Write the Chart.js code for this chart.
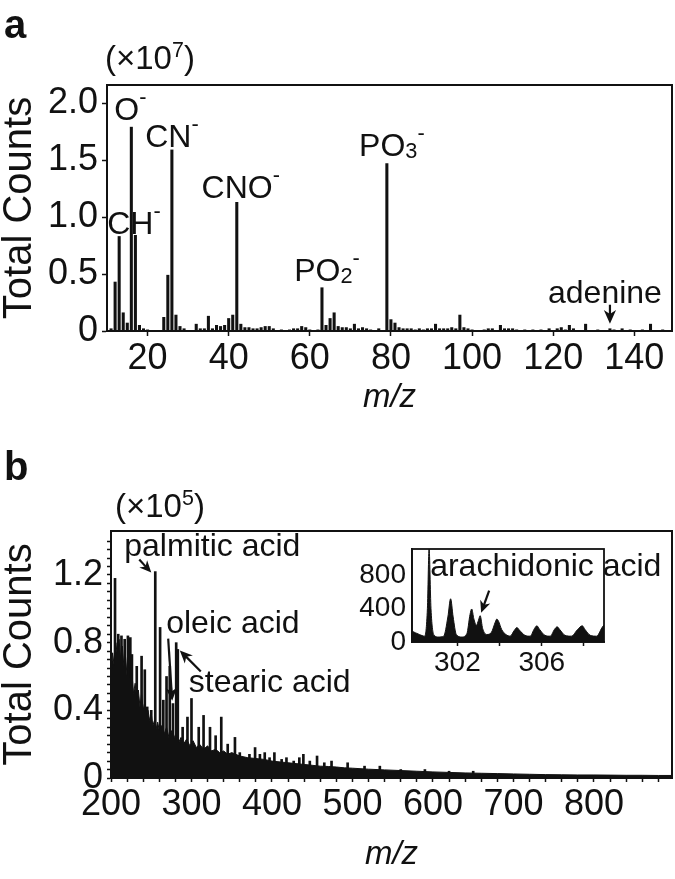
<!DOCTYPE html>
<html><head><meta charset="utf-8">
<script src="https://cdn.jsdelivr.net/npm/chart.js@4.4.0/dist/chart.umd.min.js"></script>
<style>
html,body{margin:0;padding:0;background:#fff;}
#wrap{position:relative;width:675px;height:879px;overflow:hidden;font-family:"Liberation Sans",Arial,sans-serif;color:#111;}
canvas{position:absolute;}
.lbl{position:absolute;white-space:nowrap;line-height:1;color:#111;}
sup{font-size:65%;}
</style></head><body>
<div id="wrap">
<canvas id="ca" width="675" height="440" style="left:0;top:0"></canvas>
<canvas id="cb" width="675" height="439" style="left:0;top:440px"></canvas>
<canvas id="ci" width="340" height="170" style="left:335px;top:520px"></canvas>
<div class="lbl" style="left:4px;top:4px;font-size:40px;font-weight:bold;">a</div>
<div class="lbl" style="left:105px;top:40px;font-size:33px;">(×10<sup>7</sup>)</div>
<div class="lbl" style="left:4px;top:446px;font-size:40px;font-weight:bold;">b</div>
<div class="lbl" style="left:115px;top:488px;font-size:33px;">(×10<sup>5</sup>)</div>
</div>
<script>
// ---------- Panel a : low-mass negative-ion spectrum (counts ×10^7) ----------
const aMz = [11,12,13,14,15,16,17,18,19,20,24,25,26,27,28,29,32,33,34,35,36,37,38,39,40,41,42,43,44,45,46,47,48,49,50,51,53,55,56,57,58,59,60,62,63,64,65,66,67,68,69,70,71,72,73,74,75,77,79,80,81,82,83,84,85,86,87,88,89,90,91,92,93,94,95,96,97,98,99,100,103,104,105,107,108,109,110,111,113,115,117,119,121,122,123,124,125,128,131,134,135,137,139,142,144,147];
const aCounts = [0.02,0.43,0.83,0.16,0.07,1.79,0.84,0.05,0.02,0.01,0.12,0.49,1.59,0.14,0.04,0.02,0.06,0.02,0.02,0.13,0.02,0.05,0.04,0.05,0.11,0.14,1.13,0.06,0.03,0.03,0.02,0.02,0.03,0.04,0.04,0.02,0.01,0.01,0.02,0.02,0.04,0.03,0.01,0.01,0.38,0.05,0.11,0.16,0.04,0.03,0.03,0.02,0.06,0.02,0.03,0.02,0.01,0.02,1.47,0.10,0.07,0.03,0.02,0.02,0.02,0.01,0.02,0.01,0.02,0.02,0.06,0.02,0.02,0.02,0.03,0.02,0.14,0.03,0.02,0.01,0.01,0.02,0.02,0.05,0.02,0.02,0.02,0.01,0.01,0.01,0.01,0.02,0.02,0.03,0.01,0.05,0.02,0.06,0.01,0.02,0.01,0.02,0.01,0.01,0.06,0.01];
const aXTicks = [20,40,60,80,100,120,140];
const aYTicks = [0,0.5,1.0,1.5,2.0];
const aYLabels = ['0','0.5','1.0','1.5','2.0'];

// ---------- Panel b : high-mass spectrum (counts ×10^5) ----------
// dense background (filled envelope)
const bEnvMz = [200,202,204,206,208,210,212,214,216,218,220,222,224,226,228,230,232,234,236,238,240,242,244,246,248,250,252,254,256,258,260,263,266,269,272,275,278,281,284,287,290,294,298,302,306,310,315,320,325,330,335,340,345,350,360,370,380,390,400,410,420,430,440,450,460,470,480,490,500,520,540,560,580,600,620,640,660,680,700,720,740,760,780,800,820,840,860,880,897];
const bEnvCounts = [0.60,0.74,0.66,0.80,0.72,0.82,0.70,0.78,0.66,0.72,0.60,0.68,0.56,0.62,0.50,0.56,0.46,0.52,0.42,0.50,0.40,0.45,0.36,0.40,0.34,0.38,0.31,0.34,0.29,0.33,0.28,0.31,0.26,0.30,0.24,0.28,0.23,0.27,0.21,0.24,0.20,0.23,0.19,0.22,0.18,0.20,0.17,0.19,0.16,0.17,0.15,0.16,0.14,0.15,0.13,0.12,0.115,0.11,0.10,0.095,0.09,0.085,0.08,0.075,0.07,0.068,0.065,0.06,0.058,0.052,0.048,0.044,0.04,0.036,0.033,0.03,0.028,0.026,0.024,0.022,0.02,0.019,0.018,0.018,0.017,0.016,0.016,0.015,0.015];
// prominent peaks
const bPeakMz = [205,209,213,217,221,224,226,232,238,242,245,250,255,261,265,269,273,277,281,283,289,295,300,309,315,323,330,337,345,354,360,372,379,385,391,397,403,412,418,427,434,439,447,456,465,474,494,515,534,560,590,620,650];
const bPeakCounts = [1.18,0.85,0.84,0.82,0.84,0.83,0.73,0.66,0.72,0.64,0.42,0.40,1.22,0.89,0.46,0.60,0.66,0.44,0.80,0.76,0.30,0.36,0.47,0.30,0.37,0.30,0.25,0.36,0.20,0.24,0.15,0.14,0.18,0.14,0.15,0.12,0.15,0.11,0.12,0.10,0.12,0.14,0.10,0.13,0.09,0.10,0.09,0.07,0.07,0.05,0.05,0.04,0.04];
const bXTicks = [200,300,400,500,600,700,800];
const bYTicks = [0,0.4,0.8,1.2];
const bYLabels = ['0','0.4','0.8','1.2'];

// ---------- Inset : 300-309 m/z profile (counts) ----------
const insetMz = [299.85,300.2,300.45,300.58,300.66,300.75,300.9,301.1,301.35,301.55,301.68,301.8,301.95,302.2,302.45,302.6,302.68,302.78,302.9,303.0,303.08,303.2,303.4,303.6,303.8,303.87,303.95,304.1,304.3,304.5,304.7,304.82,304.95,305.2,305.45,305.65,305.77,305.9,306.15,306.4,306.6,306.73,306.85,307.1,307.4,307.7,307.92,308.05,308.3,308.6,308.85,308.95];
const insetCounts = [130,90,70,400,1115,400,80,60,70,300,518,300,90,60,100,330,396,280,200,260,315,160,90,110,240,275,250,150,90,70,140,173,140,80,70,160,194,150,80,70,150,182,150,80,70,150,194,150,80,70,170,206];
const insetXTicks = [302,304,306,308];
const insetXLabels = ['302','','306',''];
const insetYTicks = [0,400,800];

// ---------- helpers ----------
const INK = '#111';
const FONT = '"Liberation Sans", Arial, sans-serif';

function richText(ctx, x, y, parts, size, align) {
  const pieces = parts.map(([t, m]) => {
    const s = m ? size * 0.68 : size;
    ctx.font = s + 'px ' + FONT;
    return {t, m, s, w: ctx.measureText(t).width};
  });
  const total = pieces.reduce((a, p) => a + p.w, 0);
  let cx = align === 'center' ? x - total / 2 : (align === 'right' ? x - total : x);
  ctx.textAlign = 'left';
  ctx.textBaseline = 'alphabetic';
  for (const p of pieces) {
    ctx.font = p.s + 'px ' + FONT;
    let dy = 0;
    if (p.m === 'sup') dy = -size * 0.5;
    if (p.m === 'sub') dy = size * 0.06;
    ctx.fillText(p.t, cx, y + dy);
    cx += p.w;
  }
}
function arrow(ctx, x1, y1, x2, y2, head) {
  head = head || 12;
  const ang = Math.atan2(y2 - y1, x2 - x1);
  ctx.beginPath();
  ctx.moveTo(x1, y1);
  ctx.lineTo(x2 - Math.cos(ang) * head * 0.6, y2 - Math.sin(ang) * head * 0.6);
  ctx.lineWidth = 2.2; ctx.strokeStyle = INK; ctx.stroke();
  ctx.beginPath();
  ctx.moveTo(x2, y2);
  ctx.lineTo(x2 - Math.cos(ang - 0.42) * head, y2 - Math.sin(ang - 0.42) * head);
  ctx.lineTo(x2 - Math.cos(ang) * head * 0.65, y2 - Math.sin(ang) * head * 0.65);
  ctx.lineTo(x2 - Math.cos(ang + 0.42) * head, y2 - Math.sin(ang + 0.42) * head);
  ctx.closePath(); ctx.fillStyle = INK; ctx.fill();
}
const framePlugin = {
  id: 'frame',
  afterDatasetsDraw(chart, args, opts) {
    const {ctx, chartArea: a} = chart;
    ctx.save(); ctx.strokeStyle = INK; ctx.lineWidth = opts.lw || 2;
    ctx.strokeRect(a.left, a.top, a.right - a.left, a.bottom - a.top);
    ctx.restore();
  }
};
const annotPlugin = {
  id: 'annot',
  afterDraw(chart, args, opts) {
    if (opts.draw) { const ctx = chart.ctx; ctx.save(); ctx.fillStyle = INK; opts.draw(chart, ctx); ctx.restore(); }
  }
};
Chart.register(framePlugin, annotPlugin);
Chart.defaults.font.family = FONT;
Chart.defaults.color = INK;
Chart.defaults.animation = false;

function fixedTicks(values) {
  return function (scale) { scale.ticks = values.map(v => ({value: v})); };
}
function axisBase(extra) {
  return Object.assign({
    type: 'linear', offset: false,
    grid: {display: true, offset: false, drawOnChartArea: false, drawTicks: true, tickLength: 5, tickWidth: 1.5, tickColor: INK},
    border: {display: true, color: INK, width: 2},
  }, extra);
}
const tickGrid = (len) => ({display: true, offset: false, drawOnChartArea: false, drawTicks: true, tickLength: len, tickWidth: 1.5, tickColor: INK});
const TICK_FONT = 36;
const TITLE_Y = {size: 40, lineHeight: 1.0};

// ---------- Chart a ----------
const peakA = (mz) => ({x: mz, y: aCounts[aMz.indexOf(mz)]});
new Chart(document.getElementById('ca'), {
  type: 'bar',
  data: {datasets: [{
    data: aMz.map((m, i) => ({x: m, y: aCounts[i]})),
    backgroundColor: INK, barThickness: 2.4, borderWidth: 0
  }]},
  options: {
    responsive: false, maintainAspectRatio: false,
    layout: {padding: {top: 85, right: 3, left: 0, bottom: 0}},
    plugins: {legend: {display: false}, tooltip: {enabled: false},
      annot: {draw(chart, ctx) {
        const xs = chart.scales.x, ys = chart.scales.y;
        const px = m => xs.getPixelForValue(m), py = v => ys.getPixelForValue(v);
        const S = 32;
        let p;
        p = peakA(16); richText(ctx, px(p.x) - 1, py(p.y) - 7, [['O',''],['-','sup']], S, 'center');
        p = peakA(26); richText(ctx, px(p.x), py(p.y) - 3, [['CN',''],['-','sup']], S, 'center');
        p = peakA(13); richText(ctx, px(p.x) - 12, py(p.y) - 2, [['CH',''],['-','sup']], S, 'left');
        p = peakA(42); richText(ctx, px(p.x) + 4, py(p.y) - 4, [['CNO',''],['-','sup']], S, 'center');
        p = peakA(63); richText(ctx, px(p.x) + 5, py(p.y) - 7, [['PO',''],['2','sub'],['-','sup']], S, 'center');
        p = peakA(79); richText(ctx, px(p.x) + 5, py(p.y) - 8, [['PO',''],['3','sub'],['-','sup']], S, 'center');
        p = peakA(134); richText(ctx, px(p.x) - 5, py(p.y) - 26, [['adenine','']], S, 'center');
        arrow(ctx, px(p.x), py(p.y) - 24, px(p.x), py(p.y) - 5, 15);
      }}},
    scales: {
      x: axisBase({min: 10, max: 149.3, afterBuildTicks: fixedTicks(aXTicks), afterFit(s) { s.height = 440 - 331; },
        ticks: {font: {size: TICK_FONT}, padding: 1, autoSkip: false, maxRotation: 0},
        title: {display: true, text: 'm/z', font: {size: 33, style: 'italic'}, padding: {top: 0, bottom: 22}}}),
      y: axisBase({min: 0, max: 2.16, afterBuildTicks: fixedTicks(aYTicks), afterFit(s) { s.width = 107; },
        ticks: {font: {size: TICK_FONT}, padding: 4, autoSkip: false, callback: (v) => aYLabels[aYTicks.indexOf(v)] ?? ''},
        title: {display: true, text: 'Total Counts', font: TITLE_Y, padding: {top: 0, bottom: 0}}})
    }
  }
});

// ---------- Chart b ----------
const peakB = (mz) => ({x: mz, y: bPeakCounts[bPeakMz.indexOf(mz)]});
const bMinorX = []; for (let v = 200; v <= 890; v += 20) bMinorX.push(v);
const bMinorY = []; for (let v = 0; v <= 1.45; v += 0.05) bMinorY.push(Math.round(v * 100) / 100);
new Chart(document.getElementById('cb'), {
  type: 'bar',
  data: {datasets: [
    {type: 'line', data: bEnvMz.map((m, i) => ({x: m, y: bEnvCounts[i]})), borderColor: INK, borderWidth: 1,
      backgroundColor: INK, fill: 'origin', pointRadius: 0, tension: 0},
    {type: 'bar', data: bPeakMz.map((m, i) => ({x: m, y: bPeakCounts[i]})), backgroundColor: INK, barThickness: 2, borderWidth: 0}
  ]},
  options: {
    responsive: false, maintainAspectRatio: false,
    layout: {padding: {top: 531 - 440, right: 3, left: 0, bottom: 0}},
    plugins: {legend: {display: false}, tooltip: {enabled: false},
      annot: {draw(chart, ctx) {
        const xs = chart.scales.x, ys = chart.scales.y;
        const px = m => xs.getPixelForValue(m), py = v => ys.getPixelForValue(v);
        const S = 32;
        let p = peakB(255);
        richText(ctx, px(p.x) - 31, py(p.y) - 16, [['palmitic acid','']], S, 'left');
        arrow(ctx, px(p.x) - 16, py(p.y) - 12, px(p.x) - 4, py(p.y) + 1, 13);
        p = peakB(281);
        richText(ctx, px(p.x) - 10, py(p.y) - 10, [['oleic acid','']], S, 'left');
        arrow(ctx, px(p.x) - 8, py(p.y) - 4, px(p.x) - 4, py(p.y) + 58, 14);
        p = peakB(283);
        richText(ctx, px(p.x) + 11, py(p.y) + 43, [['stearic acid','']], S, 'left');
        arrow(ctx, px(p.x) + 23, py(p.y) + 22, px(p.x) + 2, py(p.y) + 1, 14);
      }}},
    scales: {
      x: axisBase({min: 200, max: 897, afterBuildTicks: fixedTicks(bMinorX), afterFit(s) { s.height = 879 - 778; },
        grid: tickGrid(4),
        ticks: {font: {size: TICK_FONT}, padding: 1, autoSkip: false, maxRotation: 0,
          callback: (v) => bXTicks.includes(v) ? String(v) : ''},
        title: {display: true, text: 'm/z', font: {size: 33, style: 'italic'}, padding: {top: 0, bottom: 4}}}),
      y: axisBase({min: 0, max: 1.46, afterBuildTicks: fixedTicks(bMinorY), afterFit(s) { s.width = 111; },
        grid: tickGrid(4),
        ticks: {font: {size: TICK_FONT}, padding: 4, autoSkip: false,
          callback: (v) => { const i = bYTicks.findIndex(t => Math.abs(t - v) < 1e-6); return i >= 0 ? bYLabels[i] : ''; }},
        title: {display: true, text: 'Total Counts', font: TITLE_Y, padding: {top: 0, bottom: 0}}})
    }
  }
});

// ---------- Inset ----------
new Chart(document.getElementById('ci'), {
  type: 'line',
  data: {datasets: [{data: insetMz.map((m, i) => ({x: m, y: insetCounts[i]})), borderColor: INK, borderWidth: 1,
    backgroundColor: INK, fill: 'origin', pointRadius: 0, cubicInterpolationMode: 'monotone'}]},
  options: {
    responsive: false, maintainAspectRatio: false,
    layout: {padding: {top: 549 - 520, right: 675 - 604, left: 0, bottom: 0}},
    plugins: {legend: {display: false}, tooltip: {enabled: false}, frame: {lw: 1.8},
      annot: {draw(chart, ctx) {
        const xs = chart.scales.x, ys = chart.scales.y;
        const px = m => xs.getPixelForValue(m), py = v => ys.getPixelForValue(v);
        const i = insetMz.indexOf(303.08);
        richText(ctx, px(insetMz[i]) - 50, py(insetCounts[i]) - 40, [['arachidonic acid','']], 32, 'left');
        arrow(ctx, px(insetMz[i]) + 9, py(insetCounts[i]) - 25, px(insetMz[i]) + 1, py(insetCounts[i]) - 3, 13);
      }}},
    scales: {
      x: axisBase({min: 299.85, max: 308.95, afterBuildTicks: fixedTicks(insetXTicks), afterFit(s) { s.height = 690 - 642; },
        border: {display: true, color: INK, width: 1.8},
        grid: tickGrid(4),
        ticks: {font: {size: 28}, padding: 0, autoSkip: false, maxRotation: 0,
          callback: (v) => insetXLabels[insetXTicks.indexOf(v)] ?? ''}}),
      y: axisBase({min: 0, max: 1115, afterBuildTicks: fixedTicks(insetYTicks), afterFit(s) { s.width = 412 - 335; },
        border: {display: true, color: INK, width: 1.8},
        grid: {display: true, drawOnChartArea: false, drawTicks: false},
        ticks: {font: {size: 28}, padding: 6, autoSkip: false, callback: (v) => String(v)}})
    }
  }
});
</script>
</body></html>
